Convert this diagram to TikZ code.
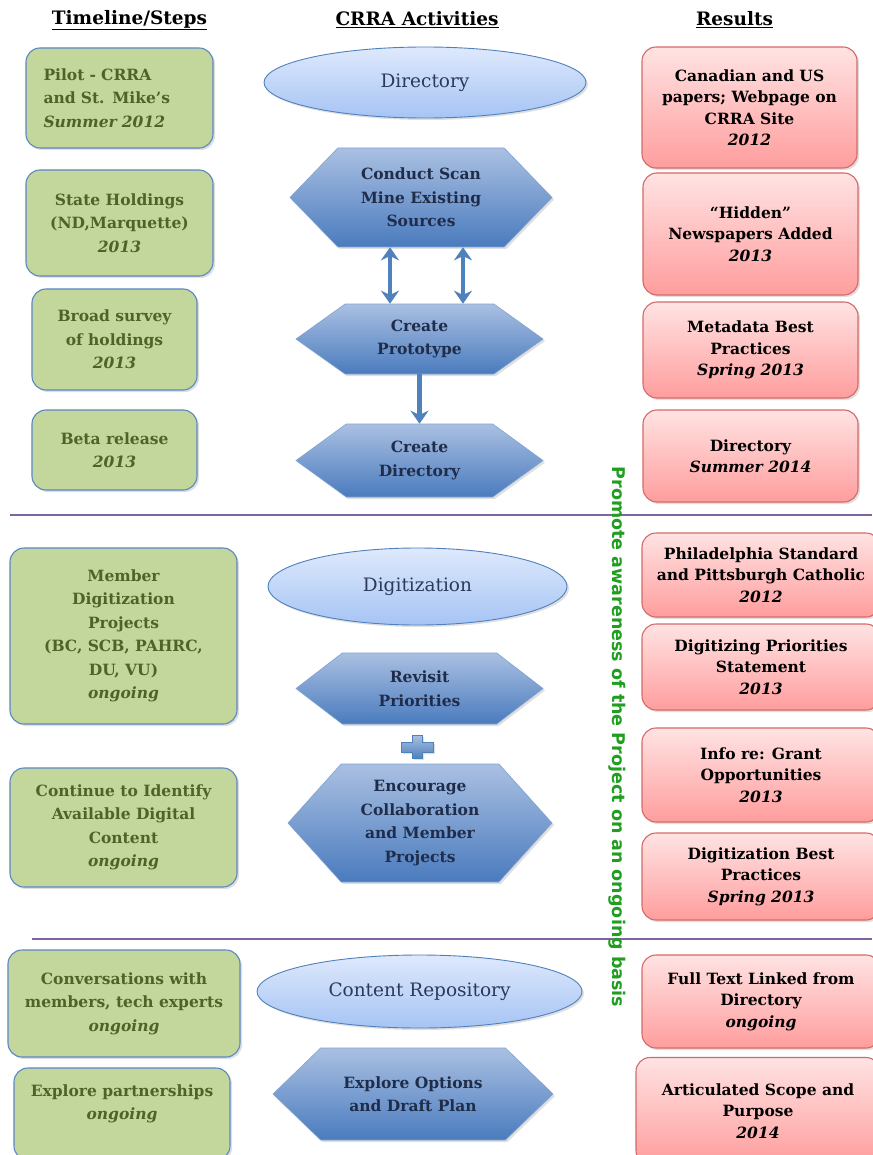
\documentclass[tikz,border=0pt]{standalone}
\usepackage{fontspec}
\setmainfont{DejaVu Serif}
\newfontfamily\sidefont{DejaVu Sans}
\usepackage{xcolor}
\usepackage{tikz}
\usetikzlibrary{shapes.geometric,shapes.symbols,shadows,arrows.meta}
\definecolor{stepfill}{HTML}{C3D69B}
\definecolor{stepline}{HTML}{5B87C5}
\definecolor{steptext}{HTML}{4F6228}
\definecolor{restop}{HTML}{FFE3E3}
\definecolor{resbot}{HTML}{FF9D9D}
\definecolor{resline}{HTML}{D46A68}
\definecolor{elltop}{HTML}{DEE9FC}
\definecolor{ellbot}{HTML}{A6C4F4}
\definecolor{ellline}{HTML}{4F81BD}
\definecolor{elltext}{HTML}{2B3A5A}
\definecolor{hextop}{HTML}{AAC0E2}
\definecolor{hexbot}{HTML}{4A7BBE}
\definecolor{hextext}{HTML}{1F2D4A}
\definecolor{flow}{HTML}{4F81BD}
\definecolor{sepcol}{HTML}{8064A2}
\definecolor{promo}{HTML}{1F9E1F}
\tikzset{
  shad/.style={drop shadow={opacity=0.25, shadow xshift=2pt, shadow yshift=-2pt}},
  stepbox/.style={draw=stepline, line width=1.1pt, fill=stepfill, rounded corners=14pt, text=steptext, align=center, font=\fontsize{15.5}{23.5}\selectfont\bfseries, shad},
  resbox/.style={draw=resline, line width=1.1pt, top color=restop, bottom color=resbot, rounded corners=14pt, text=black, align=center, font=\fontsize{15.5}{21.5}\selectfont\bfseries, shad},
  actell/.style={ellipse, draw=ellline, line width=0.9pt, top color=elltop, bottom color=ellbot, text=elltext, font=\fontsize{18.5}{20}\selectfont, shad},
  acthex/.style={signal, signal to=west and east, draw=hexbot!70!white, line width=0.6pt, top color=hextop, bottom color=hexbot, text=hextext, align=center, inner sep=2pt, font=\fontsize{15.5}{23.5}\selectfont\bfseries, shad},
  hdr/.style={font=\fontsize{18.5}{20}\selectfont\bfseries},
  arr/.style={draw=flow, line width=4.2pt, -{Stealth[width=18pt,length=13pt]}},
  dblarr/.style={arr, {Stealth[width=18pt,length=13pt]}-{Stealth[width=18pt,length=13pt]}},
  sepline/.style={draw=sepcol, line width=1.3pt},
}
\begin{document}
\begin{tikzpicture}[x=1pt, y=-1pt]
  \useasboundingbox (0,0) rectangle (872,1155);
  \fill[white] (0,0) rectangle (872,1155);
  % column heads
  \node[hdr] (hsteps) at (129.5,20) {\underline{Timeline/Steps}};
  \node[hdr] (hact) at (417,20) {\underline{CRRA Activities}};
  \node[hdr] (hres) at (734.5,20) {\underline{Results}};
  % separators
  \draw[sepline] (10,515) -- (872,515);
  \draw[sepline] (32,939) -- (872,939);
  % timeline / steps
  \node[stepbox, minimum width=187, minimum height=100, text width=152, align=left] (pilot) at (119.5,98) {Pilot - CRRA\\and St. Mike's\\\textit{Summer 2012}};
  \node[stepbox, minimum width=187, minimum height=106] (state) at (119.5,223) {State Holdings\\(ND,Marquette)\\\textit{2013}};
  \node[stepbox, minimum width=165, minimum height=101] (broad) at (114.5,339.5) {Broad survey\\of holdings\\\textit{2013}};
  \node[stepbox, minimum width=165, minimum height=80] (beta) at (114.5,450) {Beta release\\\textit{2013}};
  \node[stepbox, minimum width=227, minimum height=176] (member) at (123.5,636) {Member\\Digitization\\Projects\\(BC, SCB, PAHRC,\\DU, VU)\\\textit{ongoing}};
  \node[stepbox, minimum width=227, minimum height=119] (contid) at (123.5,827.5) {Continue to Identify\\Available Digital\\Content\\\textit{ongoing}};
  \node[stepbox, minimum width=232, minimum height=107] (convo) at (124,1003.5) {Conversations with\\members, tech experts\\\textit{ongoing}};
  \node[stepbox, minimum width=216, minimum height=92, text depth=24pt] (partner) at (122,1114) {Explore partnerships\\\textit{ongoing}};
  % CRRA activities
  \node[actell, minimum width=322, minimum height=71] (dir) at (425,82.5) {Directory};
  \node[acthex, minimum width=262, minimum height=99, signal pointer angle=92] (scan) at (421,197.5) {Conduct Scan\\Mine Existing\\Sources};
  \node[acthex, minimum width=247, minimum height=70, signal pointer angle=71] (proto) at (419.5,339) {Create\\Prototype};
  \node[acthex, minimum width=247, minimum height=73, signal pointer angle=72] (cdir) at (419.5,460.5) {Create\\Directory};
  \node[actell, minimum width=299, minimum height=77] (digi) at (417.5,586.5) {Digitization};
  \node[acthex, minimum width=247, minimum height=71, signal pointer angle=75] (revisit) at (419.5,688.5) {Revisit\\Priorities};
  \node[acthex, minimum width=264, minimum height=118, signal pointer angle=96] (encour) at (420,823) {Encourage\\Collaboration\\and Member\\Projects};
  \node[actell, minimum width=325, minimum height=73] (repo) at (419.5,991.5) {Content Repository};
  \node[acthex, minimum width=280, minimum height=92, signal pointer angle=88] (explore) at (413,1094) {Explore Options\\and Draft Plan};
  \draw[dblarr] ([xshift=-31pt]scan.south) -- ([xshift=-31pt]scan.south |- proto.north);
  \draw[dblarr] ([xshift=42pt]scan.south) -- ([xshift=42pt]scan.south |- proto.north);
  \draw[arr] (proto.south) -- (cdir.north);
  \shade[top color=hextop, bottom color=flow, draw=flow, line width=0.5pt, shad]
    (412,735) -- (422,735) -- (422,742) -- (433,742) -- (433,752) -- (422,752) -- (422,758)
    -- (412,758) -- (412,752) -- (401,752) -- (401,742) -- (412,742) -- cycle;
  % results
  \node[resbox, minimum width=215, minimum height=121] (canus) at (749.5,107.5) {Canadian and US\\papers; Webpage on\\CRRA Site\\\textit{2012}};
  \node[resbox, minimum width=215, minimum height=122] (hidden) at (750.5,234) {``Hidden''\\Newspapers Added\\\textit{2013}};
  \node[resbox, minimum width=215, minimum height=96] (meta) at (750.5,350) {Metadata Best\\Practices\\\textit{Spring 2013}};
  \node[resbox, minimum width=215, minimum height=92] (rdir) at (750.5,456) {Directory\\\textit{Summer 2014}};
  \node[resbox, minimum width=238, minimum height=84] (phila) at (761,575) {Philadelphia Standard\\and Pittsburgh Catholic\\\textit{2012}};
  \node[resbox, minimum width=238, minimum height=86] (prior) at (761,667) {Digitizing Priorities\\Statement\\\textit{2013}};
  \node[resbox, minimum width=238, minimum height=94] (grant) at (761,775) {Info re: Grant\\Opportunities\\\textit{2013}};
  \node[resbox, minimum width=238, minimum height=87] (digbest) at (761,876.5) {Digitization Best\\Practices\\\textit{Spring 2013}};
  \node[resbox, minimum width=238, minimum height=93] (fulltext) at (761,1001.5) {Full Text Linked from\\Directory\\\textit{ongoing}};
  \node[resbox, minimum width=244, minimum height=107] (scope) at (758,1111) {Articulated Scope and\\Purpose\\\textit{2014}};
  % side note
  \node[rotate=-90, text=promo, font=\sidefont\fontsize{17.5}{20}\selectfont\bfseries] (promote) at (617,737) {Promote awareness of the Project on an ongoing basis};
\end{tikzpicture}
\end{document}
